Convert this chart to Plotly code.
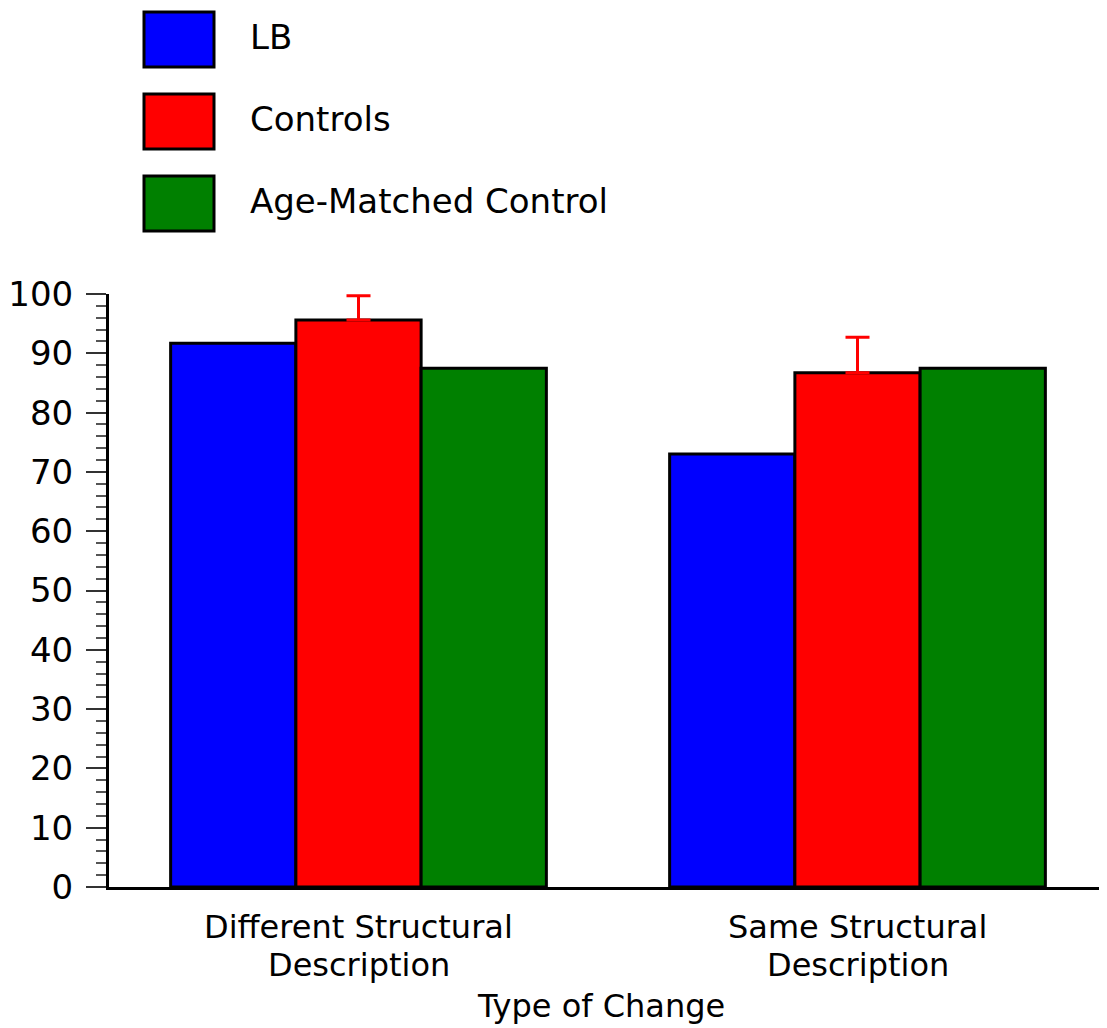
import plotly.graph_objects as go

category_lines = [["Different Structural", "Description"], ["Same Structural", "Description"]]
series_names = ["LB", "Controls", "Age-Matched Control"]
lb_values = [91.7, 73.0]
controls_values = [95.6, 86.7]
controls_errors = [4.1, 6.0]
amc_values = [87.5, 87.5]
colors = ["#0000ff", "#ff0000", "#008000"]
x_title = "Type of Change"

FONT = "DejaVu Sans, Liberation Sans, Arial, sans-serif"
FS = 34
FS_CAT = 32

# the page body adds an 8px margin; compensate so the plot area lands at
# screen x 105..1107, y 294..887
OFF = 8
W, H = 1107 - OFF, 1028 - OFF
L, R, T, B = 105 - OFF, 0, 294 - OFF, 141
PX0, PX1, PY0, PY1 = 105, 1107, 294, 887


def px_to_paper_x(px):
    return (px - PX0) / (PX1 - PX0)


def py_to_paper_y(py):
    return (PY1 - py) / (PY1 - PY0)


fig = go.Figure()
vals = [lb_values, controls_values, amc_values]
for i, (name, v) in enumerate(zip(series_names, vals)):
    kw = {}
    if name == "Controls":
        kw["error_y"] = dict(type="data", array=controls_errors, symmetric=False,
                             arrayminus=[0, 0], color="#ff0000", thickness=3, width=12)
    fig.add_trace(go.Bar(
        x=[0, 1], y=v, name=name,
        marker=dict(color=colors[i], line=dict(color="black", width=3)),
        **kw))

fig.update_layout(
    width=W, height=H,
    margin=dict(l=L, r=R, t=T, b=B, pad=0),
    barmode="group", bargap=0.247, bargroupgap=0,
    showlegend=False,
    plot_bgcolor="white", paper_bgcolor="white",
    font=dict(family=FONT, size=FS, color="black"),
)
fig.update_xaxes(
    range=[-0.5, 1.5], tickmode="array", tickvals=[0, 1], ticktext=["", ""],
    showline=True, linecolor="black", linewidth=3, ticks="", showgrid=False,
    zeroline=False,
)
fig.update_yaxes(
    range=[0, 100], dtick=10, tick0=0, showline=True, linecolor="black", linewidth=3,
    ticks="outside", ticklen=20, tickwidth=2, tickcolor="#333333",
    minor=dict(dtick=2, ticks="outside", ticklen=10, tickwidth=2, tickcolor="#555555"),
    showgrid=False, zeroline=False, tickfont=dict(size=FS), ticklabelstandoff=6,
)

# category labels (two lines each, tight spacing as in the original)
line_centers = [927, 965]
for ci, lines in enumerate(category_lines):
    for li, txt in enumerate(lines):
        fig.add_annotation(text=txt, xref="x", yref="paper", x=ci,
                           y=py_to_paper_y(line_centers[li]),
                           xanchor="center", yanchor="middle", showarrow=False,
                           font=dict(size=FS_CAT))

fig.add_annotation(text=x_title, xref="paper", yref="paper",
                   x=px_to_paper_x(599), y=py_to_paper_y(1006),
                   xanchor="center", yanchor="middle", showarrow=False,
                   font=dict(size=FS_CAT))

# legend drawn as shapes + annotations (boxes larger than plotly legend symbols)
box_tops = [12, 94, 176]
box_h = 55
for i, name in enumerate(series_names):
    top = box_tops[i]
    fig.add_shape(type="rect", xref="paper", yref="paper",
                  xsizemode="pixel", ysizemode="pixel", xanchor=0, yanchor=1,
                  x0=140 - PX0, x1=210 - PX0, y0=PY0 - top, y1=PY0 - top - box_h,
                  fillcolor=colors[i], line=dict(color="black", width=3))
    cy = top + box_h / 2 - 2
    fig.add_annotation(text=name, xref="paper", yref="paper",
                       x=px_to_paper_x(245), y=py_to_paper_y(cy),
                       xanchor="left", yanchor="middle", showarrow=False,
                       font=dict(size=FS))

fig.write_html("out.html")
